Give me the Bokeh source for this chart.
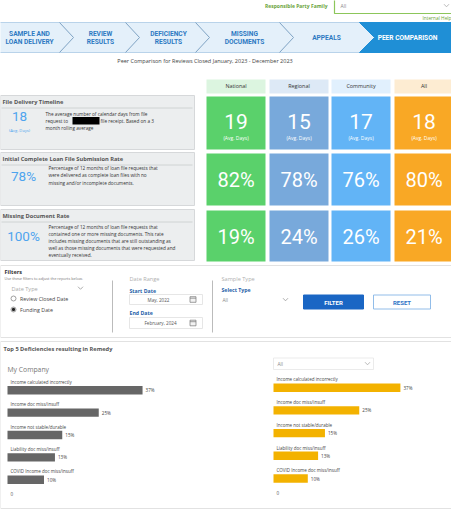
from bokeh.plotting import figure
from bokeh.models import Range1d
from bokeh.core.properties import value
from bokeh.embed import file_html
from bokeh.resources import INLINE

# ---------------- data ----------------
nav_steps = ["SAMPLE AND\nLOAN DELIVERY", "REVIEW\nRESULTS", "DEFICIENCY\nRESULTS",
             "MISSING\nDOCUMENTS", "APPEALS", "PEER COMPARISON"]
subtitle = "Peer Comparison for Reviews Closed January, 2023 - December 2023"
peer_groups = ["National", "Regional", "Community", "All"]
metric_titles = ["File Delivery Timeline", "Initial Complete Loan File Submission Rate",
                 "Missing Document Rate"]
metric_units = ["", "%", "%"]
my_values = [18, 78, 100]
national = [19, 82, 19]
regional = [15, 78, 24]
community = [17, 76, 26]
all_peers = [18, 80, 21]
descriptions = [
    ["The average number of calendar days from file", "request to", "month rolling average"],
    ["Percentage of 12 months of loan file requests that",
     "were delivered as complete loan files with no",
     "missing and/or incomplete documents."],
    ["Percentage of 12 months of loan file requests that",
     "contained one or more missing documents. This rate",
     "includes missing documents that are still outstanding as",
     "well as those missing documents that were requested and",
     "eventually received."],
]
deficiencies = ["Income calculated incorrectly", "Income doc miss/insuff",
                "Income not stable/durable", "Liability doc miss/insuff",
                "COVID Income doc miss/insuff"]
my_company_pct = [37, 25, 15, 13, 10]
all_pct = [37, 25, 15, 13, 10]

# ---------------- figure ----------------
p = figure(width=451, height=509, x_range=Range1d(8, 459), y_range=Range1d(517, 8),
           output_backend="svg", toolbar_location=None, min_border=0,
           x_axis_location=None, y_axis_location=None)
p.grid.visible = False
p.outline_line_color = None
p.background_fill_color = "white"
p.border_fill_color = "white"

OS = "Open Sans"
RB = "Roboto"


def txt(x, y, s, size, color, align="left", bold=False, font=OS, **kw):
    p.text(x=[x], y=[y], text=[s], text_font=value(font), text_font_size=f"{size}px",
           text_color=color, text_align=align, text_baseline="middle",
           text_font_style="bold" if bold else "normal", **kw)


def box(l, r, t, b, fill, line=None, lw=1):
    p.quad(left=[l], right=[r], top=[t], bottom=[b], fill_color=fill,
           line_color=line, line_width=lw)


def chevron(x, y, w=3, h=1.6, color="#888"):
    p.line([x - w, x, x + w], [y - h, y + h, y - h], line_color=color, line_width=0.8)


# ---------------- header ----------------
green = "#6aa33a"
txt(335, 13, "Responsible Party Family", 5, green, align="right", bold=True)
box(342, 461, 5, 21, "white", "#8cc65a", 1.2)
txt(348, 13.5, "All", 5, "#888")
chevron(454, 13, 2.5, 1.3, "#aaa")
txt(459, 25, "Internal Help", 4.8, green, align="right")

# nav bar
box(7, 461, 30, 60, "#e4f0fa", "#b9d3ea")
for cx in [67, 133, 203, 287]:
    p.line([cx, cx + 14, cx], [30, 45, 60], line_color="#7fa3c4", line_width=1)
p.patch([367, 461, 461, 367, 382], [30, 30, 60, 60, 45], fill_color="#1f8fd6",
        line_color="#1f8fd6")
nav_x = [37, 108, 176, 252, 334, 415]
navc = "#2d79c2"
for i, (s, cx) in enumerate(zip(nav_steps, nav_x)):
    lines = s.split("\n")
    col = "white" if i == len(nav_steps) - 1 else navc
    if len(lines) == 2:
        txt(cx, 41.5, lines[0], 6.6, col, align="center", bold=True, font=RB)
        txt(cx, 49.5, lines[1], 6.6, col, align="center", bold=True, font=RB)
    else:
        txt(cx, 45.5, lines[0], 6.6, col, align="center", bold=True, font=RB)

txt(212.5, 68, subtitle, 5.5, "#444", align="center")

# ---------------- tiles ----------------
col_l = [214, 277, 339, 402]
col_w = 59
head_fill = ["#dcf5e0", "#dde9f6", "#e1f0fd", "#fdecd2"]
tile_fill = ["#5ad16b", "#78a9db", "#62b4f6", "#f9a825"]
row_tb = [(104, 157), (161, 213), (218, 269)]
series = [national, regional, community, all_peers]
for j, g in enumerate(peer_groups):
    l = col_l[j]
    box(l, l + col_w, 87, 101, head_fill[j])
    txt(l + col_w / 2, 93.5, g, 5.4, "#333", align="center")
    for i, (t, b) in enumerate(row_tb):
        box(l, l + col_w, t, b, tile_fill[j])
        v = series[j][i]
        s = f"{v}{metric_units[i]}"
        if metric_units[i] == "":
            txt(l + col_w / 2, 128.5, s, 21, "white", align="center", font=RB)
            txt(l + col_w / 2, 145.5, "(Avg. Days)", 5, "white", align="center")
        else:
            txt(l + col_w / 2, (t + b) / 2 + 0.5, s, 20, "white", align="center", font=RB)

# left metric panels
panel_tb = [(103, 157), (160, 213), (217, 268)]
big_y = [124, 183, 243]
desc_x = [53, 56, 56]
desc_y0 = [121, 175.5, 234]
desc_dy = [7.2, 7.3, 7.2]
bluev = "#4ea4ee"
for i, (t, b) in enumerate(panel_tb):
    box(8, 202, t, b, "#eceeef", "#d6d8da")
    txt(10, t + 6.5, metric_titles[i], 5.7, "#555", bold=True)
    p.line([9, 200], [t + 12.5, t + 12.5], line_color="#c9cbcd", line_width=0.8)
    s = f"{my_values[i]}{metric_units[i]}"
    cx = 27 if i == 0 else 31
    txt(cx, big_y[i], s, 13.5, bluev, align="center", font=RB)
    for k, line in enumerate(descriptions[i]):
        txt(desc_x[i], desc_y0[i] + k * desc_dy[i], line, 4.7, "#333")
# redacted word and rest of line
box(80, 107, 124.5, 132, "black")
txt(108, 128.2, "file receipt. Based on a 3", 4.7, "#333")
txt(27, 138, "(Avg. Days)", 4.2, bluev, align="center")

# ---------------- filters ----------------
box(8, 460, 273, 345, "white", "#e2e2e2")
txt(12, 279.5, "Filters", 5.6, "#333", bold=True)
txt(12, 286, "Use these filters to adjust the reports below.", 3.8, "#777")
txt(19, 296, "Date Type", 5.6, "#aaa")
chevron(88, 295.5, 2.5, 1.3, "#999")
p.scatter(x=[21, 21], y=[306, 317], size=5, marker="circle", fill_color="white",
          line_color="#777", line_width=0.7)
p.scatter(x=[21], y=[317], size=3.3, marker="circle", fill_color="#222", line_color=None)
txt(27.5, 306.2, "Review Closed Date", 5.3, "#444")
txt(27.5, 317.2, "Funding Date", 5.3, "#444")
p.line([120, 120], [288, 340], line_color="#bbbbbb", line_width=1)
p.line([220, 220], [288, 340], line_color="#bbbbbb", line_width=1)

txt(137, 286, "Date Range", 5.6, "#b0b0b0")
blue_lbl = "#1f5fa8"
txt(137, 298, "Start Date", 5.2, blue_lbl, bold=True)
box(137, 210, 302, 312, "white", "#e0e0e0", 0.8)
txt(166, 307.2, "May, 2022", 4.6, "#555", align="center")
txt(137, 320.5, "End Date", 5.2, blue_lbl, bold=True)
box(137, 210, 325, 336, "white", "#e0e0e0", 0.8)
txt(168, 330.5, "February, 2024", 4.6, "#555", align="center")
for cy in [307, 330.5]:
    box(197.5, 203.5, cy - 2.8, cy + 2.8, "#f3f3f3", "#777", 0.7)
    p.line([197.5, 203.5], [cy - 1.3, cy - 1.3], line_color="#777", line_width=0.7)

txt(229, 286, "Sample Type", 5.6, "#b0b0b0")
txt(229, 297.5, "Select Type", 5.2, blue_lbl, bold=True)
txt(230, 307.5, "All", 4.8, "#888")
chevron(293, 307, 2.5, 1.3, "#999")

box(311, 371, 302.5, 316.5, "#1a66c4", "#1a66c4")
txt(341, 309.8, "FILTER", 6, "white", align="center", bold=True, font=RB)
box(381, 438, 302.5, 316.5, "white", "#86b5e6", 0.9)
txt(409.5, 309.8, "RESET", 6, "#2f74c6", align="center", bold=True, font=RB)

# ---------------- bottom charts ----------------
box(8, 460, 349, 516, "white", "#e2e2e2")
txt(11, 356, "Top 5 Deficiencies resulting in Remedy", 5.7, "#555", bold=True)
txt(15, 377, "My Company", 6.8, "#777")
box(281, 381, 365.5, 377, "white", "#e6e6e6", 0.8)
txt(285, 371.5, "All", 4.8, "#888")
chevron(375, 371, 2.5, 1.3, "#aaa")

LX0, LS = 15, 3.65
RX0, RS = 281, 3.43
p.extra_x_ranges["lbar"] = Range1d((8 - LX0) / LS, (459 - LX0) / LS)
p.extra_x_ranges["rbar"] = Range1d((8 - RX0) / RS, (459 - RX0) / RS)

n = len(deficiencies)
left_bar_y = [397.8 + 22.35 * i for i in range(n)]
right_bar_y = [395.2 + 22.7 * i for i in range(n)]

for rng, vals, ys, colr, lab_x in [("lbar", my_company_pct, left_bar_y, "#666666", 18),
                                    ("rbar", all_pct, right_bar_y, "#f3b200", 284)]:
    p.hbar(y=ys, left=0, right=vals, height=8.4, x_range_name=rng,
           fill_color=colr, line_color=None)
    p.text(x=vals, y=ys, text=[f"{v}%" for v in vals], x_offset=3, x_range_name=rng,
           text_font=value(OS), text_font_size="4.6px", text_color="#444",
           text_baseline="middle")
    p.text(x=[lab_x] * n, y=[y - 8.3 for y in ys], text=deficiencies,
           text_font=value(OS), text_font_size="4.5px", text_color="#444",
           text_baseline="middle")
    p.text(x=[0], y=[ys[-1] + 14.2], text=["0"], x_offset=3, x_range_name=rng,
           text_font=value(OS), text_font_size="4.6px", text_color="#555",
           text_baseline="middle")

open("out.html", "w").write(file_html(p, INLINE))
